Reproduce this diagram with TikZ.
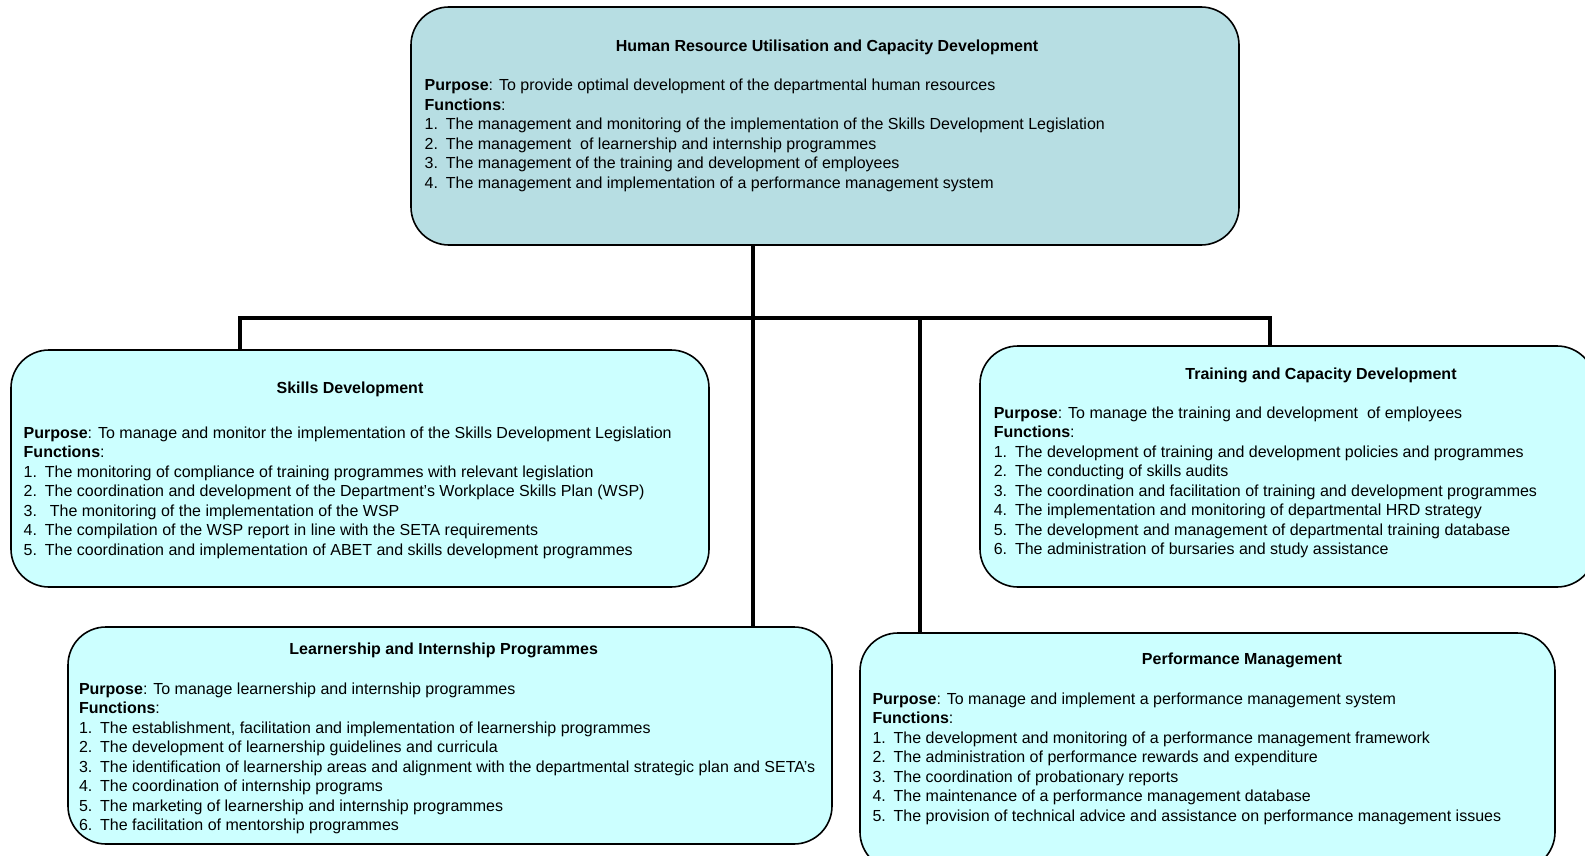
\documentclass[tikz,border=0pt]{standalone}
\usepackage{fontspec}
\setmainfont{Liberation Sans}
\definecolor{topfill}{HTML}{B7DEE3}
\definecolor{subfill}{HTML}{CCFFFF}
\newcommand{\fs}{\fontsize{16}{19.5}\selectfont}
\newcommand{\itm}[1]{\makebox[21.2pt][l]{#1}}
\tikzset{
  box/.style={draw=black, line width=1.6pt, rounded corners=38pt, inner sep=0pt},
  topbox/.style={box, fill=topfill},
  subbox/.style={box, fill=subfill},
  conn/.style={line width=4pt, line join=miter, line cap=rect},
  ttl/.style={font=\bfseries\fs, anchor=base, inner sep=0pt},
  body/.style={font=\fs, align=left, anchor=north west, inner sep=0pt},
}
\begin{document}
\begin{tikzpicture}[x=1pt, y=-1pt]
\useasboundingbox (0,0) rectangle (1585,856);
\fill[white] (0,0) rectangle (1585,856);
% coordinates for the connector tree
\coordinate (j) at (753,318);
\coordinate (bl) at (240,318);
\coordinate (br) at (1270,318);
\coordinate (pj) at (920,318);

\node[topbox, minimum width=828pt, minimum height=238pt] (top) at (825,126) {};
\node[subbox, minimum width=698pt, minimum height=237pt] (skills) at (360,468.5) {};
\node[subbox, minimum width=615pt, minimum height=241pt] (training) at (1287.5,466.5) {};
\node[subbox, minimum width=764pt, minimum height=217pt] (learn) at (450,735.5) {};
\node[subbox, minimum width=695pt, minimum height=237pt] (perf) at (1207.5,751.5) {};

\draw[conn] (top.south -| j) -- (learn.north -| j);
\draw[conn] (skills.north -| bl) -- (bl) -- (br) -- (training.north -| br);
\draw[conn] (pj) -- (perf.north -| pj);

% top box text
\node[ttl] (toptitle) at (827,52) {Human Resource Utilisation and Capacity Development};
\node[body] (toptext) at (424.5,76.9) {\strut\textbf{Purpose}: To provide optimal development of the departmental human resources\\
\textbf{Functions}:\\
\itm{1.}The management and monitoring of the implementation of the Skills Development Legislation\\
\itm{2.}The management\ \ of learnership and internship programmes\\
\itm{3.}The management of the training and development of employees\\
\itm{4.}The management and implementation of a performance management system};

% skills
\node[ttl] (skillstitle) at (350,393.5) {Skills Development};
\node[body] (skillstext) at (23.5,424.4) {\strut\textbf{Purpose}: To manage and monitor the implementation of the Skills Development Legislation\\
\textbf{Functions}:\\
\itm{1.}The monitoring of compliance of training programmes with relevant legislation\\
\itm{2.}The coordination and development of the Department's Workplace Skills Plan (WSP)\\
\itm{3.}\hspace{5pt}The monitoring of the implementation of the WSP\\
\itm{4.}The compilation of the WSP report in line with the SETA requirements\\
\itm{5.}The coordination and implementation of ABET and skills development programmes};

% training
\node[ttl] (traintitle) at (1321,379.5) {Training and Capacity Development};
\node[body] (traintext) at (993.6,404.3) {\strut\textbf{Purpose}: To manage the training and development\ \ of employees\\
\textbf{Functions}:\\
\itm{1.}The development of training and development policies and programmes\\
\itm{2.}The conducting of skills audits\\
\itm{3.}The coordination and facilitation of training and development programmes\\
\itm{4.}The implementation and monitoring of departmental HRD strategy\\
\itm{5.}The development and management of departmental training database\\
\itm{6.}The administration of bursaries and study assistance};

% learnership
\node[ttl] (learntitle) at (443.7,654.5) {Learnership and Internship Programmes};
\node[body] (learntext) at (78.8,680.3) {\strut\textbf{Purpose}: To manage learnership and internship programmes\\
\textbf{Functions}:\\
\itm{1.}The establishment, facilitation and implementation of learnership programmes\\
\itm{2.}The development of learnership guidelines and curricula\\
\itm{3.}The identification of learnership areas and alignment with the departmental strategic plan and SETA's\\
\itm{4.}The coordination of internship programs\\
\itm{5.}The marketing of learnership and internship programmes\\
\itm{6.}The facilitation of mentorship programmes};

% performance
\node[ttl] (perftitle) at (1242,664.5) {Performance Management};
\node[body] (perftext) at (872.3,690.3) {\strut\textbf{Purpose}: To manage and implement a performance management system\\
\textbf{Functions}:\\
\itm{1.}The development and monitoring of a performance management framework\\
\itm{2.}The administration of performance rewards and expenditure\\
\itm{3.}The coordination of probationary reports\\
\itm{4.}The maintenance of a performance management database\\
\itm{5.}The provision of technical advice and assistance on performance management issues};
\end{tikzpicture}
\end{document}
